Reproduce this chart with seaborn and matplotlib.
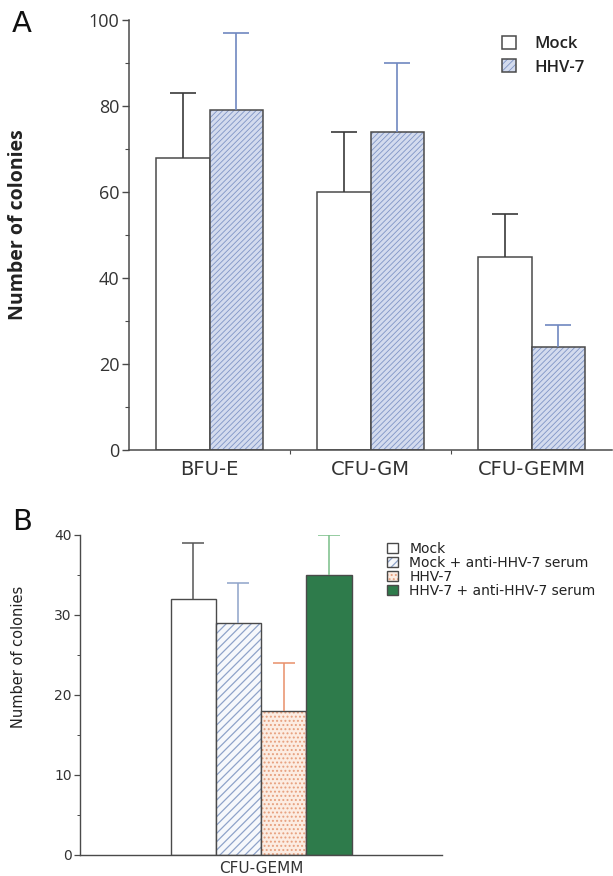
import numpy as np
import pandas as pd
import matplotlib
matplotlib.use("Agg")
import matplotlib.pyplot as plt
import seaborn as sns
from matplotlib.colors import to_rgba
from matplotlib.patches import Patch

# ---------------- data ----------------
cells_a = ["BFU-E", "CFU-GM", "CFU-GEMM"]
groups_a = ["Mock", "HHV-7"]
mock_mean = [68, 60, 45]
mock_err_top = [83, 74, 55]
hhv_mean = [79, 74, 24]
hhv_err_top = [97, 90, 29]

cell_b = ["CFU-GEMM"]
groups_b = ["Mock", "Mock + anti-HHV-7 serum", "HHV-7", "HHV-7 + anti-HHV-7 serum"]
b_mean = [32, 29, 18, 35]
b_err_top = [39, 34, 24, 40]

# ---------------- style ----------------
sns.set_theme(style="ticks")
plt.rcParams["font.family"] = ["Open Sans", "DejaVu Sans"]
EDGE = "#4a4a4a"
TXT = "#333333"
WIDE = ["DejaVu Sans"]

fig = plt.figure(figsize=(6.13, 8.76), dpi=100)


def set_hatch(patch, color, lw):
    patch._hatch_color = to_rgba(color)
    if hasattr(patch, "set_hatch_linewidth"):
        patch.set_hatch_linewidth(lw)


def upper_errbar(ax, x, m, t, color, capsize, lw):
    eb = ax.errorbar(x, m, yerr=[[0], [t - m]], fmt="none", ecolor=color,
                     elinewidth=lw, capsize=capsize, capthick=lw, zorder=1)
    for cl in eb[1]:
        if np.allclose(cl.get_ydata(), m):
            cl.set_visible(False)


# ================= Panel A =================
plt.rcParams["hatch.linewidth"] = 0.6
axA = fig.add_axes([129 / 613, 1 - 450 / 876, 483 / 613, 430 / 876])
dfA = pd.DataFrame({
    "cell": cells_a * 2,
    "group": ["Mock"] * 3 + ["HHV-7"] * 3,
    "value": mock_mean + hhv_mean,
})
sns.barplot(data=dfA, x="cell", y="value", hue="group", order=cells_a,
            hue_order=groups_a, palette=["white", "#d3dbee"], width=0.66,
            gap=0, errorbar=None, legend=False, ax=axA, saturation=1)

styleA = [
    dict(face="white", hatch=None, hcol=None, ecol="#3a3a3a", means=mock_mean, tops=mock_err_top),
    dict(face="#d3dbee", hatch="//////", hcol="#7f95c6", ecol="#7088c0", means=hhv_mean, tops=hhv_err_top),
]
barsA = list(axA.containers)
for cont, st in zip(barsA, styleA):
    for bar, m, t in zip(cont, st["means"], st["tops"]):
        bar.set_facecolor(st["face"])
        bar.set_edgecolor(EDGE)
        bar.set_linewidth(1.1)
        if st["hatch"]:
            bar.set_hatch(st["hatch"])
            set_hatch(bar, st["hcol"], 0.6)
        x = bar.get_x() + bar.get_width() / 2
        upper_errbar(axA, x, m, t, st["ecol"], 9.5, 1.2)

axA.set_ylim(0, 100)
axA.set_xlim(-0.5, 2.5)
axA.set_yticks(np.arange(0, 101, 20))
axA.set_yticks(np.arange(10, 100, 20), minor=True)
axA.set_xticks([0.5, 1.5], minor=True)
axA.tick_params(axis="y", which="major", length=5, width=1, colors=EDGE,
                labelsize=13, labelcolor=TXT, pad=2)
axA.tick_params(axis="y", which="minor", length=3, width=0.8, colors=EDGE)
axA.tick_params(axis="x", which="major", length=0, labelsize=14, labelcolor=TXT, pad=7)
axA.tick_params(axis="x", which="minor", length=3, width=0.8, colors=EDGE)
for lab in axA.get_xticklabels():
    lab.set_family(WIDE)
sns.despine(ax=axA)
for sp in ["left", "bottom"]:
    axA.spines[sp].set_color(EDGE)
    axA.spines[sp].set_linewidth(1.1)
axA.set_xlabel("")
axA.set_ylabel("Number of colonies", fontsize=14, fontweight="bold", color="#222222")
axA.yaxis.set_label_coords(-0.209, 0.525)

handlesA = [Patch(facecolor="white", edgecolor=EDGE, linewidth=1.1),
            Patch(facecolor="#d3dbee", edgecolor=EDGE, linewidth=1.1, hatch="/////")]
legA = axA.legend(handlesA, groups_a, loc="upper left",
                  bbox_to_anchor=(502 / 613, 1 - 36 / 876), bbox_transform=fig.transFigure,
                  frameon=False, fontsize=12, handlelength=0.85, handleheight=0.85,
                  handletextpad=1.1, labelspacing=0.4, borderpad=0, borderaxespad=0)
for t in legA.get_texts():
    t.set_fontweight("semibold")
    t.set_color("#222222")
set_hatch(legA.get_patches()[1], "#7f95c6", 0.6)

# ================= Panel B =================
plt.rcParams["hatch.linewidth"] = 0.9
axB = fig.add_axes([80 / 613, 1 - 855 / 876, 362 / 613, 320 / 876])
dfB = pd.DataFrame({"cell": cell_b * 4, "group": groups_b, "value": b_mean})
facesB = ["white", "#f6f8fb", "#fcece2", "#2e7b4b"]
sns.barplot(data=dfB, x="cell", y="value", hue="group", hue_order=groups_b,
            palette=facesB, width=0.5, gap=0, errorbar=None, legend=False,
            ax=axB, saturation=1)
hatchB = [None, "////", "....", None]
hcolB = [None, "#8ea3c9", "#e7a07e", None]
ecolB = ["#555555", "#8ea3c9", "#e88f6a", "#79bf88"]
barsB = list(axB.containers)
for i, cont in enumerate(barsB):
    for bar in cont:
        bar.set_facecolor(facesB[i])
        bar.set_edgecolor(EDGE)
        bar.set_linewidth(1.0)
        if hatchB[i]:
            bar.set_hatch(hatchB[i])
            set_hatch(bar, hcolB[i], 0.9)
        x = bar.get_x() + bar.get_width() / 2
        upper_errbar(axB, x, b_mean[i], b_err_top[i], ecolB[i], 8, 1.1)

axB.set_ylim(0, 40)
axB.set_xlim(-0.5, 0.5)
axB.set_yticks(np.arange(0, 41, 10))
axB.set_yticks(np.arange(5, 40, 10), minor=True)
axB.tick_params(axis="y", which="major", length=4, width=0.9, colors=EDGE,
                labelsize=10, labelcolor=TXT, pad=2)
axB.tick_params(axis="y", which="minor", length=2.5, width=0.7, colors=EDGE)
axB.tick_params(axis="x", which="major", length=0, labelsize=11, labelcolor=TXT, pad=4)
for lab in axB.get_xticklabels() + axB.get_yticklabels():
    lab.set_family(WIDE)
sns.despine(ax=axB)
for sp in ["left", "bottom"]:
    axB.spines[sp].set_color(EDGE)
    axB.spines[sp].set_linewidth(1.0)
axB.set_xlabel("")
axB.set_ylabel("Number of colonies", fontsize=10.5, color="#222222", family=WIDE)
axB.yaxis.set_label_coords(-0.149, 0.62)

handlesB = [Patch(facecolor=facesB[i], edgecolor=EDGE, linewidth=1.0,
                  hatch=hatchB[i]) for i in range(4)]
legB = axB.legend(handlesB, groups_b, loc="upper left",
                  bbox_to_anchor=(387 / 613, 1 - 542 / 876), bbox_transform=fig.transFigure,
                  frameon=False, prop={"family": WIDE, "size": 10},
                  handlelength=0.8, handleheight=0.8,
                  handletextpad=0.8, labelspacing=0.0, borderpad=0, borderaxespad=0)
for t in legB.get_texts():
    t.set_color("#222222")
for p, hc in zip(legB.get_patches(), hcolB):
    if hc:
        set_hatch(p, hc, 0.9)

# panel letters
fig.text(12 / 613, 1 - 10 / 876, "A", fontsize=21, va="top", ha="left", color="#111111",
         family=WIDE)
fig.text(12 / 613, 1 - 508 / 876, "B", fontsize=21, va="top", ha="left", color="#111111",
         family=WIDE)

fig.savefig("out.png", dpi=100)
